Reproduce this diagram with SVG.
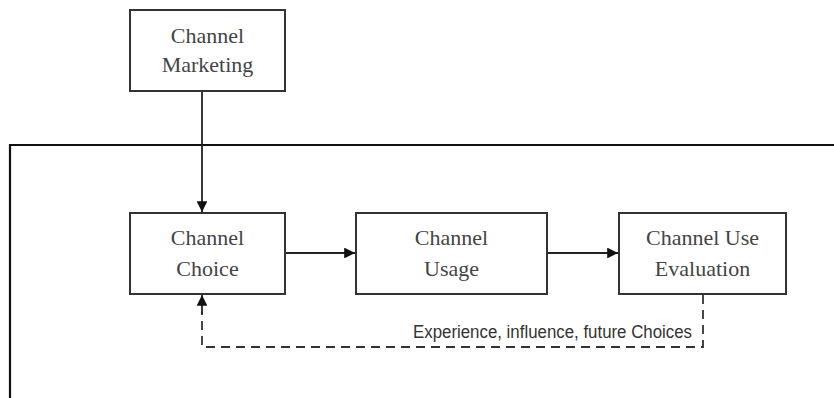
<svg xmlns="http://www.w3.org/2000/svg" width="834" height="398" viewBox="0 0 834 398">
<defs>
<style>
.box{fill:#fff;stroke:#333;stroke-width:2}
.t{font-family:"Liberation Serif","Times New Roman",serif;font-size:22px;fill:#444;text-anchor:middle}
.c{fill:none;stroke:#222;stroke-width:1.8}
.d{fill:none;stroke:#333;stroke-width:1.8;stroke-dasharray:9 6}
.lbl{font-family:"Liberation Sans",Arial,sans-serif;font-size:17.5px;fill:#333}
</style>
<marker id="ah" viewBox="0 0 10 10" refX="10" refY="5" markerWidth="6" markerHeight="6" orient="auto" markerUnits="strokeWidth">
<path d="M0,0 L10,5 L0,10 z" fill="#111"/>
</marker>
</defs>
<rect width="834" height="398" fill="#fff"/>
<path d="M10,398 V145 H834" fill="none" stroke="#111" stroke-width="2.2"/>
<g id="connectors">
<line class="c" x1="202" y1="91" x2="202" y2="212" marker-end="url(#ah)"/>
<line class="c" x1="285" y1="253" x2="355" y2="253" marker-end="url(#ah)"/>
<line class="c" x1="547" y1="253" x2="618" y2="253" marker-end="url(#ah)"/>
<path class="d" d="M703,295 V347 H202 V312"/>
<line class="c" x1="202" y1="314" x2="202" y2="295" marker-end="url(#ah)"/>
<text class="lbl" x="413" y="338" textLength="279" lengthAdjust="spacingAndGlyphs">Experience, influence, future Choices</text>
</g>
<g id="marketing">
<rect class="box" x="130" y="10" width="155" height="81"/>
<text class="t" x="207.5" y="43">Channel</text>
<text class="t" x="207.5" y="72">Marketing</text>
</g>
<g id="choice">
<rect class="box" x="130" y="213" width="155" height="81"/>
<text class="t" x="207.5" y="245">Channel</text>
<text class="t" x="207.5" y="276">Choice</text>
</g>
<g id="usage">
<rect class="box" x="356" y="213" width="191" height="81"/>
<text class="t" x="451.5" y="245">Channel</text>
<text class="t" x="451.5" y="276">Usage</text>
</g>
<g id="evaluation">
<rect class="box" x="619" y="213" width="167" height="81"/>
<text class="t" x="702.5" y="245">Channel Use</text>
<text class="t" x="702.5" y="276">Evaluation</text>
</g>
</svg>
